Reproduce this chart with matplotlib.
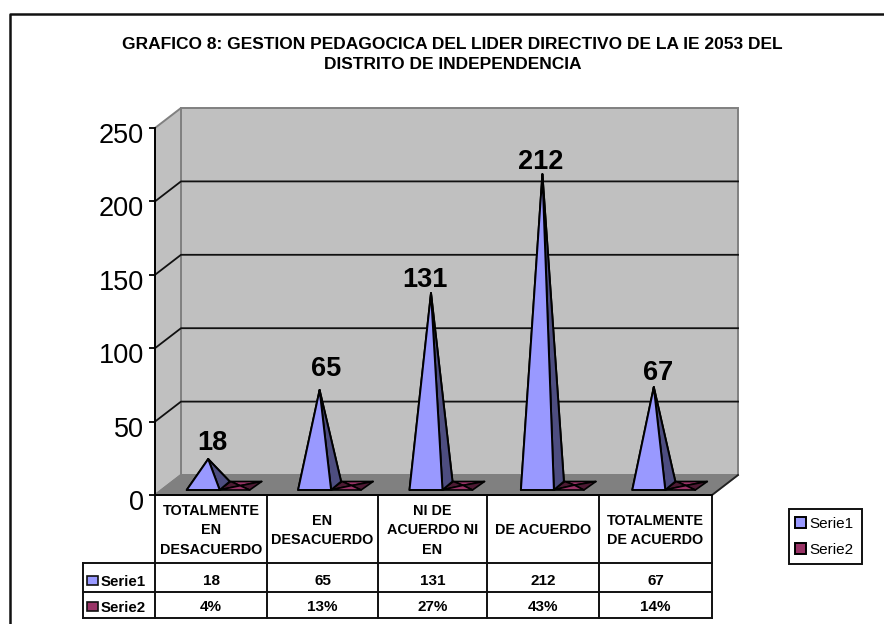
import matplotlib
matplotlib.use("Agg")
import matplotlib.pyplot as plt
from matplotlib.patches import Patch, Polygon, Rectangle
from matplotlib.transforms import ScaledTranslation

plt.rcParams["font.family"] = ["Liberation Sans", "DejaVu Sans"]

TITLE = "GRAFICO 8: GESTION PEDAGOCICA DEL LIDER DIRECTIVO DE LA IE 2053 DEL\nDISTRITO DE INDEPENDENCIA"
CATEGORIES = ["TOTALMENTE\nEN\nDESACUERDO", "EN\nDESACUERDO", "NI DE\nACUERDO NI\nEN", "DE ACUERDO", "TOTALMENTE\nDE ACUERDO"]
SERIE1 = [18, 65, 131, 212, 67]
SERIE2 = [4, 13, 27, 43, 14]
SERIE_NAMES = ["Serie1", "Serie2"]
Y_TICKS = [0, 50, 100, 150, 200, 250]

BLUE = "#9999FF"
BLUE_DARK = "#4D4D80"
WINE = "#993366"
WINE_DARK = "#4D1A33"
WALL = "#C0C0C0"
FLOOR = "#808080"

W, H = 884, 624
LEFT, RIGHT, BOTTOM, TOP = 155, 712, 495, 128
DEPTH_X, DEPTH_Y = 26, 20
COL_EDGES = [155, 267, 378, 487, 599, 712]
ROW_EDGES = [495, 563, 592, 617.5]
KEY_LEFT = 83
# label nudges in pixels, the chart places them a bit unevenly
LABEL_DX = [4, 7, -6, -2, 4]
LABEL_DY = [9, 14, 6, 5, 7]


def main():
    fig = plt.figure(figsize=(W / 100, H / 100), dpi=100)

    # page layer in pixel units: frame, title, legend box and data table
    page = fig.add_axes([0, 0, 1, 1])
    page.set_xlim(0, W)
    page.set_ylim(H, 0)
    page.axis("off")
    page.plot([9.5, 9.5, W], [H, 13.5, 13.5], color="#111111", lw=1.8)
    page.text(452.5, 54.5, TITLE, ha="center", va="center", fontsize=12.55, fontweight="bold", linespacing=1.4)
    page.add_patch(Rectangle((789, 509), 73, 55, facecolor="white", edgecolor="#111111", lw=1.4))
    draw_table(page)

    ax = fig.add_axes([LEFT / W, 1 - BOTTOM / H, (RIGHT - LEFT) / W, (BOTTOM - TOP) / H])
    ax.patch.set_visible(False)
    ax.set_xlim(0, len(CATEGORIES))
    ax.set_ylim(0, 250)
    px_x = len(CATEGORIES) / (RIGHT - LEFT)
    px_y = 250 / (BOTTOM - TOP)
    draw_box(ax, px_x, px_y)

    for i, (v1, v2) in enumerate(zip(SERIE1, SERIE2)):
        c = i + 0.5
        draw_pyramid(ax, c, v2 / 100, [8, 39, 51, 20], -2, px_x, px_y, WINE, WINE_DARK, True)
        draw_pyramid(ax, c, v1, [-24, 9, 19, -14], -2.5, px_x, px_y, BLUE, BLUE_DARK, False)
        ax.annotate(str(v1), xy=(c + -2.5 * px_x, v1 + 9.5 * px_y),
                    xytext=(LABEL_DX[i] * 0.72, LABEL_DY[i] * 0.72), textcoords="offset points",
                    ha="center", va="baseline", fontsize=19.5, fontweight="bold",
                    annotation_clip=False, zorder=6)

    for name in ["top", "right"]:
        ax.spines[name].set_visible(False)
    ax.spines["left"].set_linewidth(1.4)
    ax.spines["bottom"].set_linewidth(1.4)
    ax.spines["left"].set_zorder(5)
    ax.spines["bottom"].set_zorder(5)
    ax.set_xticks([])
    ax.set_yticks(Y_TICKS)
    ax.tick_params(axis="y", labelsize=19.5, length=4.3, width=1.3, pad=3.8)
    # tick numbers sit slightly below their tick marks
    shift = ScaledTranslation(0, -5 / 100, fig.dpi_scale_trans)
    for label in ax.get_yticklabels():
        label.set_transform(label.get_transform() + shift)

    handles = [Patch(facecolor=BLUE, edgecolor="black", lw=1.4), Patch(facecolor=WINE, edgecolor="black", lw=1.4)]
    fig.legend(handles, SERIE_NAMES, loc="upper left", bbox_to_anchor=(795 / W, 1 - 517 / H),
               borderaxespad=0, fontsize=11, frameon=False, handlelength=0.72, handleheight=0.72,
               handletextpad=0.2, labelspacing=0.78, borderpad=0)

    fig.savefig("out.png", dpi=100, facecolor="white")


def draw_box(ax, px_x, px_y):
    # walls and floor of the 3D box, depth is a fixed pixel offset
    dx = DEPTH_X * px_x
    dy = DEPTH_Y * px_y
    n = len(CATEGORIES)
    ax.add_patch(Rectangle((dx, dy), n, 250, facecolor=WALL, edgecolor=FLOOR, lw=1.4, clip_on=False, zorder=1))
    ax.add_patch(Polygon([(0, 0), (dx, dy), (dx, 250 + dy), (0, 250)], facecolor=WALL, edgecolor=FLOOR,
                         lw=1.4, clip_on=False, zorder=1))
    ax.add_patch(Polygon([(0, 0), (dx, dy), (n + dx, dy), (n, 0)], facecolor=FLOOR, edgecolor=FLOOR,
                         lw=1.4, clip_on=False, zorder=2))
    ax.plot([n, n + dx], [0, dy], color="#222222", lw=1.3, clip_on=False, zorder=3)
    for t in Y_TICKS[1:-1]:
        ax.plot([0, dx, n + dx], [t, t + dy, t + dy], color="#111111", lw=1.3, clip_on=False, zorder=3)


def draw_pyramid(ax, c, value, corners, apex_dx, px_x, px_y, face, side, flat):
    front_l, front_r, back_r, back_l = [c + p * px_x for p in corners]
    y_front = 5 * px_y
    y_back = 13.5 * px_y
    apex = (c + apex_dx * px_x, value + 9.5 * px_y)
    if flat:
        apex = ((front_l + back_r) / 2, value + (y_front + y_back) / 2)
    fl, fr, br, bl = (front_l, y_front), (front_r, y_front), (back_r, y_back), (back_l, y_back)
    faces = [([bl, br, apex], face), ([fl, bl, apex], side), ([fr, br, apex], side), ([fl, fr, apex], face)]
    for pts, color in faces:
        ax.add_patch(Polygon(pts, closed=True, facecolor=color, edgecolor="black", lw=1.2 if flat else 1.4,
                             joinstyle="round", clip_on=False, zorder=4))


def draw_table(page):
    line = dict(color="#111111", lw=1.4, solid_capstyle="projecting")
    for x in COL_EDGES:
        page.plot([x, x], [ROW_EDGES[0], ROW_EDGES[-1]], **line)
    page.plot([KEY_LEFT, KEY_LEFT], [ROW_EDGES[1], ROW_EDGES[-1]], **line)
    page.plot([LEFT, RIGHT], [ROW_EDGES[0]] * 2, **line)
    for y in ROW_EDGES[1:]:
        page.plot([KEY_LEFT, RIGHT], [y, y], **line)

    for i, cat in enumerate(CATEGORIES):
        x = (COL_EDGES[i] + COL_EDGES[i + 1]) / 2
        page.text(x, 530.5, cat, ha="center", va="center", fontsize=10.4, fontweight="bold", linespacing=1.5)
        page.text(x, 581, str(SERIE1[i]), ha="center", va="center", fontsize=11, fontweight="bold")
        page.text(x, 607, f"{SERIE2[i]}%", ha="center", va="center", fontsize=11, fontweight="bold")

    for name, color, y in zip(SERIE_NAMES, [BLUE, WINE], [581, 607]):
        page.add_patch(Rectangle((87, y - 5.5), 11, 9.5, facecolor=color, edgecolor="#111111", lw=1.2))
        page.text(101, y + 0.5, name, ha="left", va="center", fontsize=10.8, fontweight="bold")


if __name__ == "__main__":
    main()
